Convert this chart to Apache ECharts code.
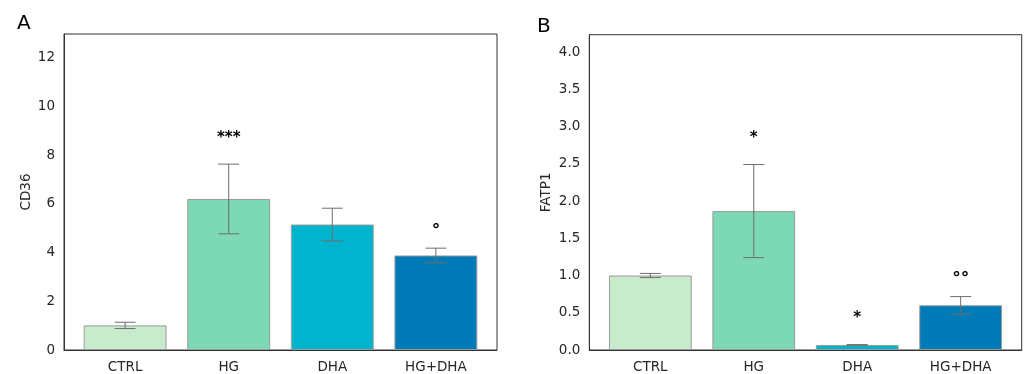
<!DOCTYPE html>
<html>
<head>
<meta charset="utf-8">
<script src="https://cdn.jsdelivr.net/npm/echarts@6/dist/echarts.min.js"></script>
<style>
  html, body { margin: 0; padding: 0; background: #fff; }
  #chart { width: 1025px; height: 374px; }
</style>
</head>
<body>
<div id="chart"></div>
<script>
// groups on the x axis
const categories = ['CTRL', 'HG', 'DHA', 'HG+DHA'];

// panel A: CD36
const cd36Mean = [1.01, 6.20, 5.15, 3.88];
const cd36Err = [0.13, 1.43, 0.67, 0.30];
const cd36Marks = ['', '***', '', '°'];
const cd36Ticks = [0, 2, 4, 6, 8, 10, 12];

// panel B: FATP1
const fatp1Mean = [1.00, 1.865, 0.068, 0.60];
const fatp1Err = [0.028, 0.625, 0.005, 0.117];
const fatp1Marks = ['', '*', '*', '°°'];
const fatp1Ticks = [0, 0.5, 1.0, 1.5, 2.0, 2.5, 3.0, 3.5, 4.0];

const barColors = ['#c8ebcc', '#7dd9b5', '#00b4ce', '#007bb7'];
const FONT = 'DejaVu Sans';
const textColor = '#262626';

// matplotlib-like x range: bars of width 0.8, 5% margin
const xMin = -0.59, xMax = 3.59;

var chartDom = document.getElementById('chart');
var myChart = echarts.init(chartDom);

const grids = [
    { left: 64, top: 34, right: 528, bottom: 23.5 },
    { left: 589.3, top: 34.7, right: 3.3, bottom: 23 }
];

function barWidthFor(g) {
    var w = 1025 - g.left - g.right;
    return w * 0.8 / (xMax - xMin);
}

function xAxisFor(idx) {
    return {
        type: 'value',
        gridIndex: idx,
        min: xMin,
        max: xMax,
        splitNumber: 4,
        z: 5,
        axisLine: { show: true, onZero: false, lineStyle: { color: '#333', width: 1 } },
        axisTick: { show: false },
        splitLine: { show: false },
        axisLabel: {
            color: textColor,
            fontFamily: FONT,
            fontSize: 13.5,
            margin: 10,
            showMinLabel: false,
            showMaxLabel: false,
            formatter: function (v) {
                return (Number.isInteger(v) && categories[v]) ? categories[v] : '';
            }
        }
    };
}

function yAxisFor(idx, name, means, errs, ticks, gap, digits) {
    var top = Math.max.apply(null, means.map(function (m, i) { return m + errs[i]; }));
    return {
        type: 'value',
        gridIndex: idx,
        min: ticks[0],
        max: top * 1.7,
        interval: ticks[1] - ticks[0],
        name: name,
        nameLocation: 'middle',
        nameGap: gap,
        nameTextStyle: { color: textColor, fontFamily: FONT, fontSize: 13.5 },
        axisLine: { show: true, onZero: false, lineStyle: { color: '#333', width: 1 } },
        axisTick: { show: false },
        splitLine: { show: false },
        axisLabel: {
            color: textColor,
            fontFamily: FONT,
            fontSize: 13.5,
            margin: 9,
            showMaxLabel: false,
            formatter: function (v) { return v.toFixed(digits); }
        }
    };
}

function barSeries(idx, means) {
    return {
        type: 'bar',
        xAxisIndex: idx,
        yAxisIndex: idx,
        barWidth: barWidthFor(grids[idx]),
        data: means.map(function (m, i) {
            return { value: [i, m], itemStyle: { color: barColors[i] } };
        }),
        itemStyle: { borderColor: '#9a9a9a', borderWidth: 1 },
        emphasis: { disabled: true }
    };
}

function errSeries(idx, means, errs, marks) {
    return {
        type: 'custom',
        xAxisIndex: idx,
        yAxisIndex: idx,
        z: 4,
        data: means.map(function (m, i) { return [i, m, errs[i]]; }),
        encode: { x: 0, y: 1 },
        renderItem: function (params, api) {
            var i = api.value(0);
            var hi = api.coord([i, api.value(1) + api.value(2)]);
            var lo = api.coord([i, api.value(1) - api.value(2)]);
            var cap = 10.5;
            var st = { stroke: '#6e6e6e', lineWidth: 1 };
            var children = [
                { type: 'line', shape: { x1: hi[0], y1: hi[1], x2: lo[0], y2: lo[1] }, style: st },
                { type: 'line', shape: { x1: hi[0] - cap, y1: hi[1], x2: hi[0] + cap, y2: hi[1] }, style: st },
                { type: 'line', shape: { x1: lo[0] - cap, y1: lo[1], x2: lo[0] + cap, y2: lo[1] }, style: st }
            ];
            var m = marks[i];
            if (m) {
                var star = m.indexOf('*') >= 0;
                children.push({
                    type: 'text',
                    x: hi[0],
                    y: hi[1] - (star ? 26 : 17),
                    style: {
                        text: m,
                        fill: '#000',
                        font: star ? 'bold 15px "DejaVu Sans"' : 'bold 17px "DejaVu Sans"',
                        align: 'center',
                        verticalAlign: 'middle'
                    }
                });
            }
            return { type: 'group', children: children };
        }
    };
}

let option = {
    backgroundColor: '#fff',
    animation: false,
    title: [
        { text: 'A', left: 12, top: 9, textStyle: { fontFamily: FONT, fontSize: 20, fontWeight: 'normal', color: '#000' } },
        { text: 'B', left: 532, top: 12, textStyle: { fontFamily: FONT, fontSize: 20, fontWeight: 'normal', color: '#000' } }
    ],
    grid: grids.map(function (g) {
        return Object.assign({ show: true, borderColor: '#333', borderWidth: 1, backgroundColor: '#fff' }, g);
    }),
    xAxis: [xAxisFor(0), xAxisFor(1)],
    yAxis: [
        yAxisFor(0, 'CD36', cd36Mean, cd36Err, cd36Ticks, 31, 0),
        yAxisFor(1, 'FATP1', fatp1Mean, fatp1Err, fatp1Ticks, 36, 1)
    ],
    series: [
        barSeries(0, cd36Mean),
        errSeries(0, cd36Mean, cd36Err, cd36Marks),
        barSeries(1, fatp1Mean),
        errSeries(1, fatp1Mean, fatp1Err, fatp1Marks)
    ]
};
option && myChart.setOption(option);
</script>
</body>
</html>
